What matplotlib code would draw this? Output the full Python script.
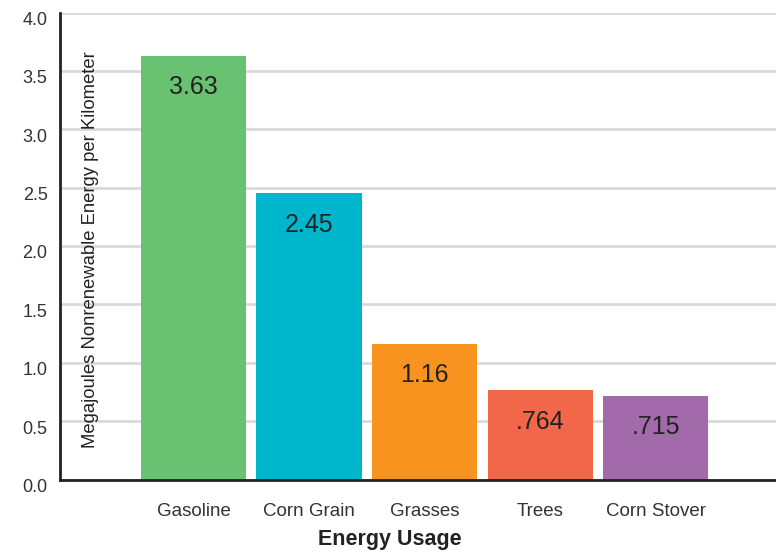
import matplotlib.pyplot as plt
import matplotlib.transforms as mtransforms

categorias = ["Gasoline", "Corn Grain", "Grasses", "Trees", "Corn Stover"]
valores = [3.63, 2.45, 1.16, 0.764, 0.715]
rotulos = ["3.63", "2.45", "1.16", ".764", ".715"]
cores = ["#69c172", "#00b6cc", "#f7931e", "#f2674a", "#a36aab"]
yticks = [0.0, 0.5, 1.0, 1.5, 2.0, 2.5, 3.0, 3.5, 4.0]

plt.rcParams['font.family'] = ['Liberation Sans', 'DejaVu Sans']

fig = plt.figure(figsize=(7.76, 5.52), dpi=100)
ax = fig.add_axes([60/776, 72.5/552, 716/776, 467/552])

x = list(range(len(categorias)))
ax.bar(x, valores, width=0.91, color=cores, zorder=3)

for xi, v, r in zip(x, valores, rotulos):
    ax.annotate(r, (xi, v), xytext=(0, -22.5), textcoords="offset points",
                ha="center", va="center", fontsize=18,
                color="#222222", zorder=4)

ax.set_xlim(-1.155, 5.04)
ax.set_ylim(0, 4.0)
ax.set_yticks(yticks)
ax.set_yticklabels([f"{t:.1f}" for t in yticks], fontsize=13, color="#333333")
ax.set_xticks(x)
ax.set_xticklabels(categorias, fontsize=13.5, color="#333333")
ax.tick_params(axis="both", length=0)
ax.tick_params(axis="y", pad=9)
ax.tick_params(axis="x", pad=17)

# rotulos do eixo y ficam um pouco abaixo da linha de grade
desloc = mtransforms.ScaledTranslation(0, -6/100, fig.dpi_scale_trans)
for lbl in ax.get_yticklabels():
    lbl.set_transform(lbl.get_transform() + desloc)

ax.grid(axis="y", color="#d9d9d9", linewidth=2, zorder=0)
for s in ["top", "right"]:
    ax.spines[s].set_visible(False)
for s in ["left", "bottom"]:
    ax.spines[s].set_color("#222222")
    ax.spines[s].set_linewidth(2)
    ax.spines[s].set_zorder(5)

ax.text(0.042, 0.492, "Megajoules Nonrenewable Energy per Kilometer",
        transform=ax.transAxes, rotation=90, ha="center", va="center",
        fontsize=13.3, color="#222222")

fig.text(390/776, 1 - 539/552, "Energy Usage", ha="center", va="center",
         fontsize=15.5, fontweight="bold", color="#222222")

fig.savefig("out.png", dpi=100)
